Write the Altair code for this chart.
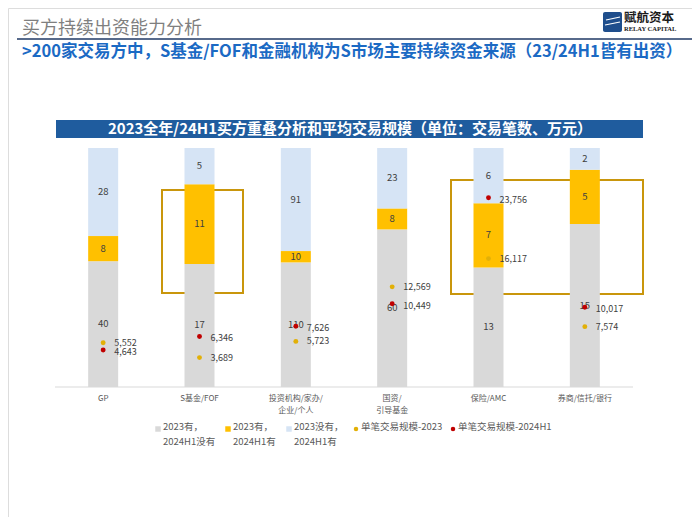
import altair as alt
import pandas as pd

# ---------------- data ----------------
categories = ["GP", "S基金/FOF", "投资机构/家办/企业/个人", "国资/引导基金", "保险/AMC", "券商/信托/银行"]
axis_labels = ["GP", "S基金/FOF", "投资机构/家办/\n企业/个人", "国资/\n引导基金", "保险/AMC", "券商/信托/银行"]
only_2023 = [40, 17, 110, 60, 13, 15]   # 2023有，2024H1没有
both_years = [8, 11, 10, 8, 7, 5]       # 2023有，2024H1有
only_2024 = [28, 5, 91, 23, 6, 2]       # 2023没有，2024H1有
size_2023 = [5552, 3689, 5723, 12569, 16117, 7574]
size_2024 = [4643, 6346, 7626, 10449, 23756, 10017]
seg_names = ["2023有，\n2024H1没有", "2023有，\n2024H1有", "2023没有，\n2024H1有"]
dot_names = ["单笔交易规模-2023", "单笔交易规模-2024H1"]

seg_colors = ["#D9D9D9", "#FFC000", "#D6E4F5"]
dot_colors = ["#E2B007", "#C00000"]

FONT = "Noto Sans CJK SC"

# ---------------- tables ----------------
rows = []
for i, c in enumerate(categories):
    vals = [only_2023[i], both_years[i], only_2024[i]]
    tot = sum(vals)
    cum = 0
    for k, v in enumerate(vals):
        rows.append({"cat": c, "seg": k, "v": v, "y0": cum / tot, "y1": (cum + v) / tot,
                     "mid": (cum + v / 2) / tot})
        cum += v
bars_df = pd.DataFrame(rows)

dots_df = pd.DataFrame(
    [{"cat": c, "series": 0, "v": size_2023[i]} for i, c in enumerate(categories)]
    + [{"cat": c, "series": 1, "v": size_2024[i]} for i, c in enumerate(categories)]
)
lab_df = pd.DataFrame({"cat": categories, "lab": axis_labels})
one = pd.DataFrame({"a": [0]})

# ---------------- scales ----------------
xs = alt.Scale(domain=categories, range=[47, 625], paddingInner=0, paddingOuter=0)
ys_bar = alt.Scale(domain=[0, 1], range=[379, 140])
ys_dot = alt.Scale(domain=[0, 30000], range=[379, 140])
X = alt.X("cat:N", scale=xs, axis=None, sort=categories)

# ---------------- decorations ----------------
title = alt.Chart(one).mark_text(text="买方持续出资能力分析", font=FONT, fontSize=18, color="#7F7F7F",
                                 align="left", baseline="alphabetic").encode(x=alt.value(14), y=alt.value(26))
navy_line = alt.Chart(one).mark_rule(color="#1F3864", strokeWidth=1.5).encode(
    x=alt.value(9), x2=alt.value(684), y=alt.value(31))
subtitle = alt.Chart(one).mark_text(
    text=">200家交易方中，S基金/FOF和金融机构为S市场主要持续资金来源（23/24H1皆有出资）",
    font=FONT, fontSize=16.5, fontWeight="bold", color="#1B6AC4", align="left", baseline="middle"
).encode(x=alt.value(14), y=alt.value(44))
logo_box = alt.Chart(one).mark_rect(color="#1F4E8C", cornerRadius=2).encode(
    x=alt.value(595), x2=alt.value(614), y=alt.value(4), y2=alt.value(24))
logo_stripe = alt.Chart(one).mark_rule(color="white", strokeWidth=1.2).encode(
    x=alt.value(598), x2=alt.value(612), y=alt.value(12), y2=alt.value(9))
logo_stripe2 = alt.Chart(one).mark_rule(color="white", strokeWidth=1.2).encode(
    x=alt.value(597), x2=alt.value(612), y=alt.value(17), y2=alt.value(14))
logo_cn = alt.Chart(one).mark_text(text="赋航资本", font=FONT, fontSize=12.5, fontWeight="bold",
                                   color="#1a1a1a", align="left", baseline="middle").encode(
    x=alt.value(616), y=alt.value(10))
logo_en = alt.Chart(one).mark_text(text="RELAY CAPITAL", font="Liberation Serif", fontSize=6.5,
                                   fontWeight="bold", color="#1a1a1a", align="left", baseline="middle").encode(
    x=alt.value(616), y=alt.value(21))

header_bar = alt.Chart(one).mark_rect(color="#1F5C9E").encode(
    x=alt.value(48), x2=alt.value(635), y=alt.value(112), y2=alt.value(130))
header_text = alt.Chart(one).mark_text(
    text="2023全年/24H1买方重叠分析和平均交易规模（单位：交易笔数、万元）",
    font=FONT, fontSize=15, fontWeight="bold", color="white", align="center", baseline="middle"
).encode(x=alt.value(342), y=alt.value(121))

box1 = alt.Chart(one).mark_rect(fillOpacity=0, stroke="#C9960C", strokeWidth=2).encode(
    x=alt.value(154), x2=alt.value(235), y=alt.value(182), y2=alt.value(285))
box2 = alt.Chart(one).mark_rect(fillOpacity=0, stroke="#C9960C", strokeWidth=2).encode(
    x=alt.value(443), x2=alt.value(635), y=alt.value(172), y2=alt.value(286))

baseline = alt.Chart(one).mark_rule(color="#D9D9D9", strokeWidth=1).encode(
    x=alt.value(47), x2=alt.value(625), y=alt.value(379))

# ---------------- data marks ----------------
bars = alt.Chart(bars_df).mark_bar(size=30).encode(
    x=X,
    y=alt.Y("y0:Q", scale=ys_bar, axis=None),
    y2="y1:Q",
    color=alt.Color("seg:O", scale=alt.Scale(domain=[0, 1, 2], range=seg_colors), legend=None),
)
seg_text = alt.Chart(bars_df).mark_text(font=FONT, fontSize=9.5, color="#404040", baseline="middle").encode(
    x=X, y=alt.Y("mid:Q", scale=ys_bar, axis=None), text="v:Q")

dots = alt.Chart(dots_df).mark_circle(size=24, opacity=1).encode(
    x=X,
    y=alt.Y("v:Q", scale=ys_dot, axis=None),
    color=alt.Color("series:O", scale=alt.Scale(domain=[0, 1], range=dot_colors), legend=None),
)
dot_text_a = alt.Chart(dots_df[dots_df.series == 0]).mark_text(
    font=FONT, fontSize=9, color="#404040", align="left", baseline="middle", dx=11, dy=0).encode(
    x=X, y=alt.Y("v:Q", scale=ys_dot, axis=None), text=alt.Text("v:Q", format=","))
dot_text_b = alt.Chart(dots_df[dots_df.series == 1]).mark_text(
    font=FONT, fontSize=9, color="#404040", align="left", baseline="middle", dx=11, dy=2).encode(
    x=X, y=alt.Y("v:Q", scale=ys_dot, axis=None), text=alt.Text("v:Q", format=","))

xlabels = alt.Chart(lab_df).mark_text(font=FONT, fontSize=8, color="#595959", baseline="top",
                                      lineBreak="\n", lineHeight=12).encode(
    x=X, y=alt.value(387), text="lab:N")

# ---------------- legend ----------------
leg_x = [150, 220, 281, 348, 445]
leg_rows = []
for k, n in enumerate(seg_names):
    leg_rows.append({"px": leg_x[k], "name": n, "kind": "sq", "col": seg_colors[k]})
for k, n in enumerate(dot_names):
    leg_rows.append({"px": leg_x[3 + k], "name": n, "kind": "dot", "col": dot_colors[k]})
leg_df = pd.DataFrame(leg_rows)

leg_sq = alt.Chart(leg_df[leg_df.kind == "sq"]).mark_square(size=30, opacity=1).encode(
    x=alt.X("px:Q", scale=None), y=alt.value(421),
    color=alt.Color("col:N", scale=None))
leg_dot = alt.Chart(leg_df[leg_df.kind == "dot"]).mark_circle(size=20, opacity=1).encode(
    x=alt.X("px:Q", scale=None), y=alt.value(421),
    color=alt.Color("col:N", scale=None))
leg_txt = alt.Chart(leg_df).mark_text(font=FONT, fontSize=9.5, color="#595959", align="left",
                                      baseline="top", lineBreak="\n", lineHeight=15, dx=5).encode(
    x=alt.X("px:Q", scale=None), y=alt.value(414), text="name:N")

chart = alt.layer(
    title, navy_line, subtitle, logo_box, logo_stripe, logo_stripe2, logo_cn, logo_en,
    header_bar, header_text, box1, box2, bars, seg_text, baseline, dots, dot_text_a, dot_text_b, xlabels,
    leg_sq, leg_dot, leg_txt,
).resolve_scale(y="independent", color="independent").properties(
    width=684, height=509, padding=0, autosize=alt.AutoSizeParams(type="none")
).configure_view(stroke=None).configure(background="white")

chart.save("out.html", embed_options={"renderer": "svg", "actions": False})
